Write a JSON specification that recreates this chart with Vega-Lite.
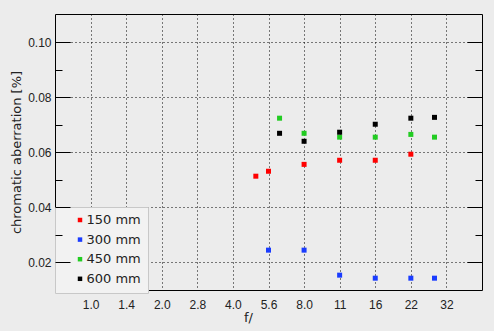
{
  "$schema": "https://vega.github.io/schema/vega-lite/v6.json",
  "width": 427,
  "height": 276,
  "autosize": "none",
  "padding": {"left": 55, "top": 14, "right": 12, "bottom": 41},
  "background": "#ececec",
  "config": {
    "view": {"stroke": "#000000", "strokeWidth": 1, "fill": "#ececec"},
    "font": "Liberation Sans"
  },
  "data": {
    "values": [
      {"focal": "150 mm", "f": 5.0, "ca": 0.0513},
      {"focal": "150 mm", "f": 5.657, "ca": 0.0531},
      {"focal": "150 mm", "f": 8.0, "ca": 0.0556},
      {"focal": "150 mm", "f": 11.31, "ca": 0.0571},
      {"focal": "150 mm", "f": 16.0, "ca": 0.0571},
      {"focal": "150 mm", "f": 22.63, "ca": 0.0593},
      {"focal": "300 mm", "f": 5.657, "ca": 0.0244},
      {"focal": "300 mm", "f": 8.0, "ca": 0.0244},
      {"focal": "300 mm", "f": 11.31, "ca": 0.0153},
      {"focal": "300 mm", "f": 16.0, "ca": 0.0142},
      {"focal": "300 mm", "f": 22.63, "ca": 0.0142},
      {"focal": "300 mm", "f": 28.5, "ca": 0.0142},
      {"focal": "450 mm", "f": 6.3, "ca": 0.0724},
      {"focal": "450 mm", "f": 8.0, "ca": 0.0669},
      {"focal": "450 mm", "f": 11.31, "ca": 0.0655},
      {"focal": "450 mm", "f": 16.0, "ca": 0.0655},
      {"focal": "450 mm", "f": 22.63, "ca": 0.0665},
      {"focal": "450 mm", "f": 28.5, "ca": 0.0655},
      {"focal": "600 mm", "f": 6.3, "ca": 0.0669},
      {"focal": "600 mm", "f": 8.0, "ca": 0.0640},
      {"focal": "600 mm", "f": 11.31, "ca": 0.0673},
      {"focal": "600 mm", "f": 16.0, "ca": 0.0702},
      {"focal": "600 mm", "f": 22.63, "ca": 0.0724},
      {"focal": "600 mm", "f": 28.5, "ca": 0.0727}
    ]
  },
  "layer": [
    {
      "mark": {"type": "square", "size": 25, "opacity": 1, "filled": true},
      "encoding": {
        "x": {
          "field": "f", "type": "quantitative",
          "scale": {"type": "log", "domain": [0.7071, 45.255], "nice": false, "zero": false},
          "axis": {
            "values": [1, 1.41421356, 2, 2.82842712, 4, 5.65685425, 8, 11.3137085, 16, 22.627417, 32],
            "labelExpr": "['1.0','1.4','2.0','2.8','4.0','5.6','8.0','11','16','22','32'][round(2*log(datum.value)/log(2))]",
            "grid": true, "gridColor": "#000000", "gridDash": [1, 3], "gridWidth": 1,
            "ticks": false, "domain": false,
            "labelPadding": 9, "labelFont": "Liberation Sans", "labelFontSize": 12, "labelColor": "#222222",
            "title": "f/", "titleFont": "DejaVu Sans", "titleFontSize": 13, "titleFontWeight": "normal", "titleColor": "#222222",
            "titleX": 193, "titleY": 27, "titleAlign": "center", "titleBaseline": "middle"
          }
        },
        "y": {
          "field": "ca", "type": "quantitative",
          "scale": {"domain": [0.0099, 0.1103], "nice": false, "zero": false},
          "axis": {
            "orient": "left",
            "values": [0.02, 0.04, 0.06, 0.08, 0.10],
            "format": ".2f",
            "labelFont": "Liberation Sans", "labelFontSize": 12, "labelColor": "#222222", "labelPadding": 19,
            "ticks": true, "tickSize": -15, "tickColor": "#000000", "tickWidth": 1,
            "grid": true, "gridColor": "#000000", "gridDash": [1, 3], "gridWidth": 1,
            "domain": false,
            "title": "chromatic aberration [%]", "titleFont": "DejaVu Sans", "titleFontSize": 13, "titleFontWeight": "normal", "titleColor": "#222222",
            "titleAngle": -90, "titleX": -39, "titleY": 138, "titleAlign": "center", "titleBaseline": "middle"
          }
        },
        "color": {
          "field": "focal", "type": "nominal",
          "scale": {"domain": ["150 mm", "300 mm", "450 mm", "600 mm"], "range": ["#ff0000", "#1a3cff", "#22cc22", "#000000"]},
          "legend": {
            "orient": "none", "legendX": 0, "legendY": 193, "title": null,
            "symbolType": "square", "symbolSize": 20, "symbolOffset": 12,
            "labelFont": "DejaVu Sans", "labelFontSize": 13, "labelColor": "#222222", "labelOffset": 0,
            "rowPadding": 5.6, "padding": 6.5, "fillColor": "#f2f2f2", "strokeColor": "#c8c8c8"
          }
        }
      }
    },
    {
      "mark": {"type": "square", "size": 25, "opacity": 0},
      "encoding": {
        "x": {"field": "f", "type": "quantitative", "axis": null},
        "y": {
          "field": "ca", "type": "quantitative",
          "axis": {
            "orient": "left", "values": [0.03, 0.05, 0.07, 0.09],
            "labels": false, "grid": false, "domain": false, "title": null, "zindex": 1,
            "ticks": true, "tickSize": -7, "tickColor": "#000000", "tickWidth": 1
          }
        }
      }
    },
    {
      "mark": {"type": "square", "size": 25, "opacity": 0},
      "encoding": {
        "x": {"field": "f", "type": "quantitative", "axis": null},
        "y": {
          "field": "ca", "type": "quantitative",
          "axis": {
            "orient": "right", "values": [0.02, 0.04, 0.06, 0.08, 0.10],
            "labels": false, "grid": false, "domain": false, "title": null,
            "ticks": true, "tickSize": -15, "tickColor": "#000000", "tickWidth": 1
          }
        }
      }
    },
    {
      "mark": {"type": "square", "size": 25, "opacity": 0},
      "encoding": {
        "x": {"field": "f", "type": "quantitative", "axis": null},
        "y": {
          "field": "ca", "type": "quantitative",
          "axis": {
            "orient": "right", "values": [0.03, 0.05, 0.07, 0.09],
            "labels": false, "grid": false, "domain": false, "title": null,
            "ticks": true, "tickSize": -7, "tickColor": "#000000", "tickWidth": 1
          }
        }
      }
    },
    {
      "mark": {"type": "square", "size": 25, "opacity": 0},
      "encoding": {
        "x": {"field": "f", "type": "quantitative", "axis": null},
        "y": {
          "field": "ca", "type": "quantitative",
          "axis": {
            "orient": "left", "values": [0.02, 0.04, 0.06, 0.08, 0.10],
            "labels": false, "grid": false, "domain": false, "title": null, "zindex": 1,
            "ticks": true, "tickSize": -15, "tickColor": "#000000", "tickWidth": 1
          }
        }
      }
    }
  ],
  "resolve": {"axis": {"y": "independent", "x": "independent"}}
}
